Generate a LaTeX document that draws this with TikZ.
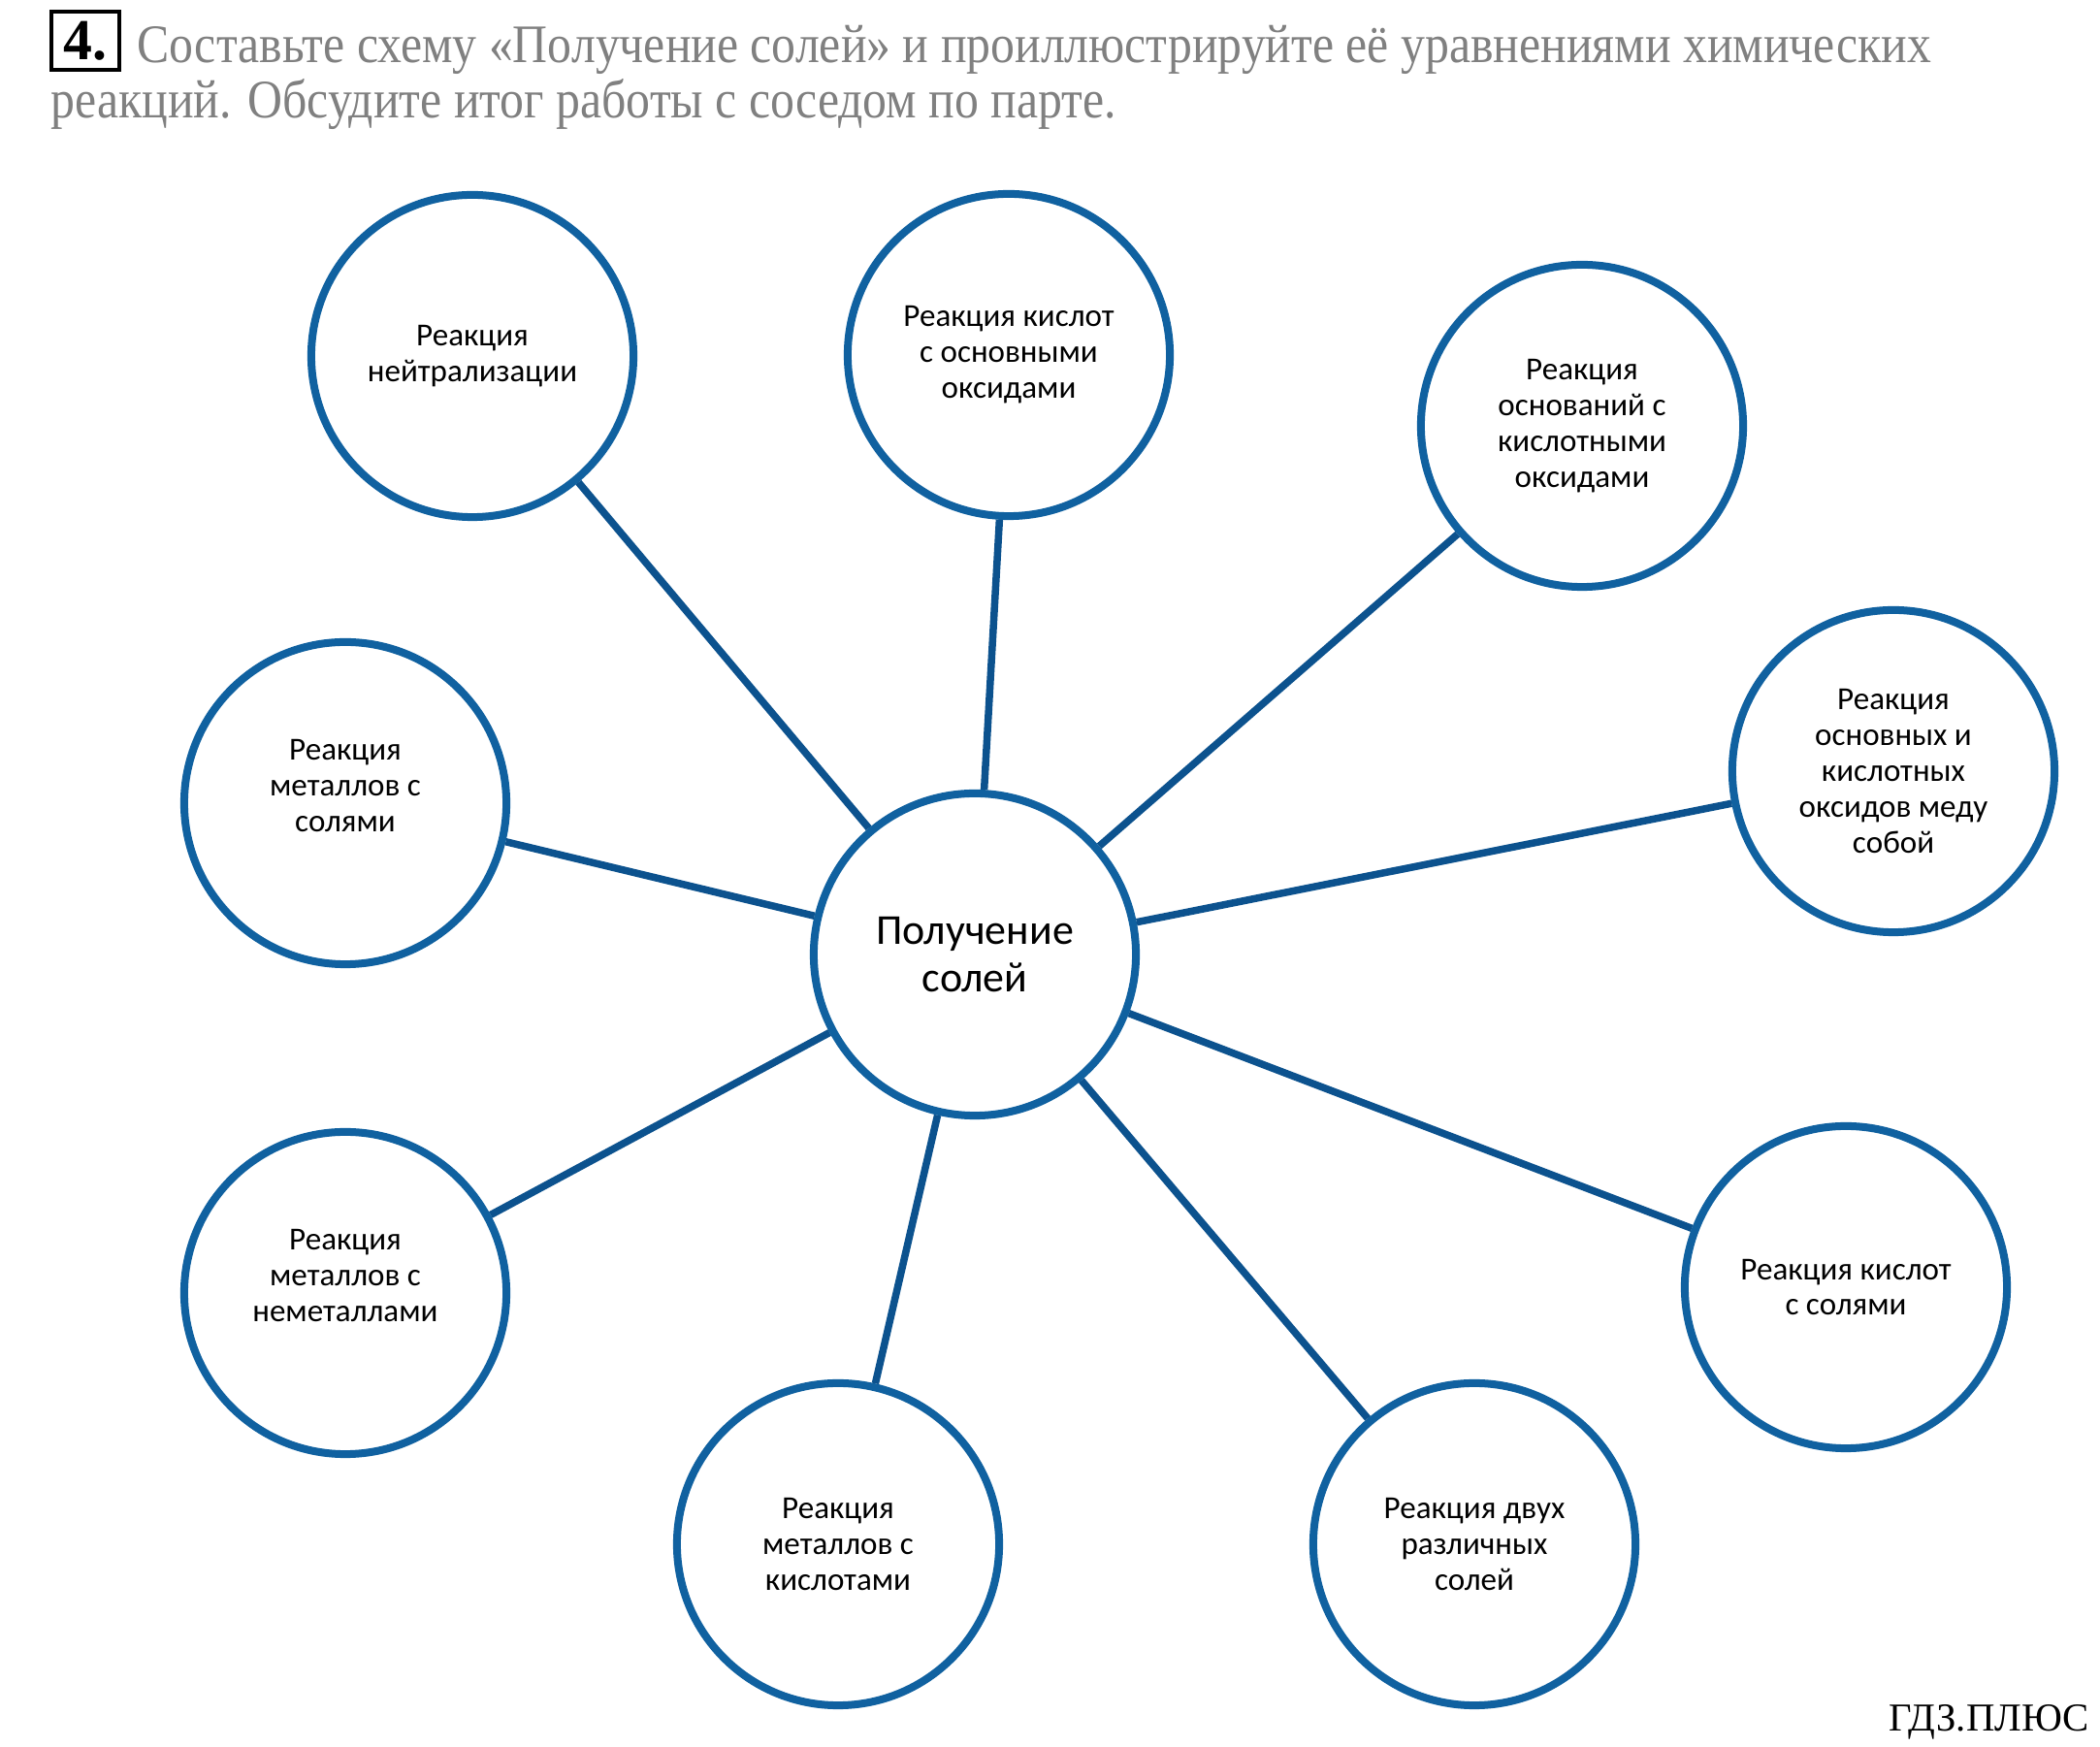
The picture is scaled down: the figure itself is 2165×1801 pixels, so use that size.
\documentclass[tikz,border=0pt]{standalone}
\usepackage{fontspec}
\setmainfont{Carlito}
\newfontfamily\timesfont{Liberation Serif}
\newfontfamily\taskfont[FakeStretch=0.89]{Liberation Serif}
\usepackage{tikz}
\definecolor{ringblue}{RGB}{16,97,160}
\definecolor{linkblue}{RGB}{12,82,142}
\definecolor{taskgray}{RGB}{128,128,128}

\begin{document}
\begin{tikzpicture}[x=0.01cm,y=-0.01cm]
	\useasboundingbox (0,0) rectangle (2165,1801);
	% task header
	\node[draw,line width=1.2pt,minimum width=0.7cm,minimum height=0.6cm,inner sep=0pt,
	      font=\timesfont\bfseries\fontsize{17}{17}\selectfont] (num) at (88,42) {4.};
	\begin{scope}[every node/.style={anchor=base west,inner sep=0pt,text=taskgray,
	              font=\taskfont\fontsize{15.9}{15.9}\selectfont}]
		\node (task1) at (141,65) {Составьте схему «Получение солей» и проиллюстрируйте её уравнениями химических};
		\node (task2) at (52,122) {реакций. Обсудите итог работы с соседом по парте.};
	\end{scope}

	\begin{scope}[every node/.style={circle,draw=ringblue,fill=white,line width=0.08cm,
	              minimum size=3.32cm,inner sep=0pt,align=center,
	              font=\fontsize{9.4}{10.5}\selectfont}]
		\node[font=\fontsize{12.5}{13.9}\selectfont] (0) at (1005,984) {Получение\\солей};
		\node (1) at (487,367) {Реакция\\нейтрализации};
		\node (2) at (1040,366) {Реакция кислот\\с основными\\оксидами};
		\node (3) at (1631,439) {Реакция\\оснований с\\кислотными\\оксидами};
		\node (4) at (1952,795) {Реакция\\основных и\\кислотных\\оксидов меду\\собой};
		\node (5) at (356,828) {Реакция\\металлов с\\солями\\\mbox{}};
		\node (6) at (356,1333) {Реакция\\металлов с\\неметаллами\\\mbox{}};
		\node (7) at (864,1592) {Реакция\\металлов с\\кислотами};
		\node (8) at (1520,1592) {Реакция двух\\различных\\солей};
		\node (9) at (1903,1327) {Реакция кислот\\с солями};
	\end{scope}

	\begin{scope}[every edge/.style={draw=linkblue,line width=0.075cm}]
		\path (0) edge (1);
		\path (0) edge (2);
		\path (0) edge (3);
		\path (0) edge (4);
		\path (0) edge (5);
		\path (0) edge (6);
		\path (0) edge (7);
		\path (0) edge (8);
		\path (0) edge (9);
	\end{scope}

	\node[anchor=base east,inner sep=0pt,font=\timesfont\fontsize{11.6}{11.6}\selectfont] (mark) at (2154,1785) {ГДЗ.ПЛЮС};
\end{tikzpicture}
\end{document}
